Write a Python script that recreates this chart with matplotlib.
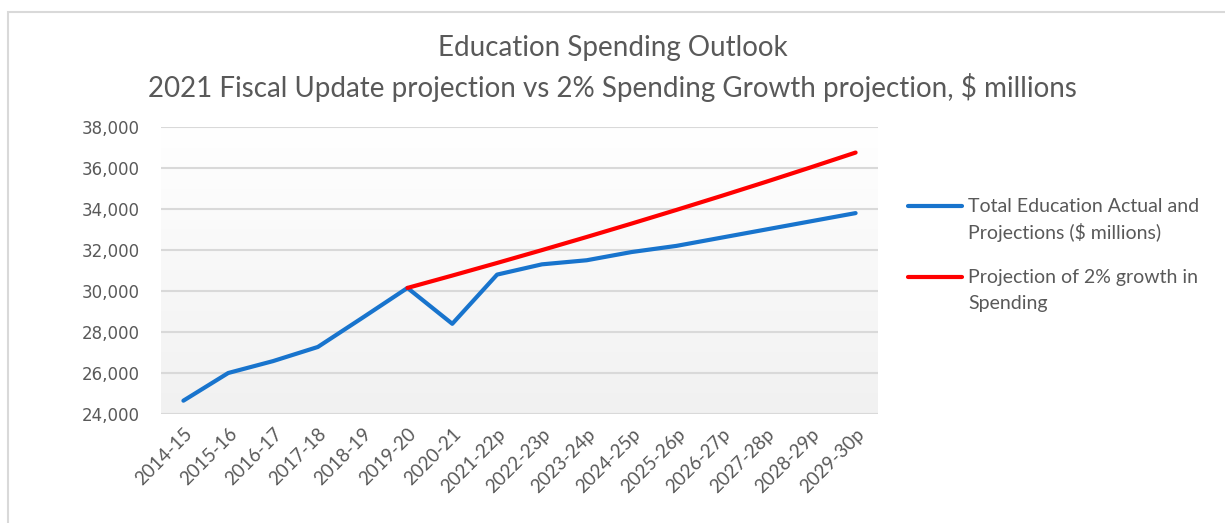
import numpy as np
import matplotlib.pyplot as plt
from matplotlib.patches import Rectangle
from matplotlib.lines import Line2D

years = ['2014-15', '2015-16', '2016-17', '2017-18', '2018-19', '2019-20', '2020-21',
         '2021-22p', '2022-23p', '2023-24p', '2024-25p', '2025-26p', '2026-27p',
         '2027-28p', '2028-29p', '2029-30p']
total_edu = [24650, 26000, 26580, 27270, 28700, 30150, 28400, 30800, 31300, 31500,
             31900, 32200, 32600, 33000, 33400, 33800]
growth_years = years[5:]
growth_2pct = [30150, 30753, 31368, 31995, 32635, 33288, 33954, 34633, 35325, 36032, 36753]
labels = ['Total Education Actual and\nProjections ($ millions)',
          'Projection of 2% growth in\nSpending']
colors = ['#1874cd', '#ff0000']

W, H = 1225, 523
fig = plt.figure(figsize=(W / 100, H / 100), dpi=100)
ax = fig.add_axes([161 / W, 1 - 414 / H, (878 - 161) / W, (414 - 127) / H])

# outer chart border
fig.patches.append(Rectangle((8 / W, -0.1), 1.2, 1 - 12 / H + 0.1, transform=fig.transFigure,
                             fill=False, edgecolor='#d9d9d9', linewidth=1.5))

x = np.arange(len(years))
gx = np.arange(5, len(years))

# gradient plot background
grad = np.linspace(1.0, 0.945, 256).reshape(-1, 1)
ax.imshow(np.dstack([grad, grad, grad]), extent=[0, 1, 0, 1], transform=ax.transAxes,
          aspect='auto', zorder=0)

ax.plot(x, total_edu, color=colors[0], lw=3, solid_capstyle='round', zorder=3)
ax.plot(gx, growth_2pct, color=colors[1], lw=3, solid_capstyle='round', zorder=4)

ax.set_xlim(-0.5, len(years) - 0.5)
ax.set_ylim(24000, 38000)
ax.set_yticks(range(24000, 38001, 2000))
ax.set_yticklabels([f'{v:,}' for v in range(24000, 38001, 2000)], fontsize=12,
                   color='#595959', family='DejaVu Sans')
ax.set_xticks(x)
ax.set_xticklabels(years, rotation=45, ha='right', rotation_mode='anchor',
                   fontsize=13.5, color='#595959', family='Lato')
ax.tick_params(axis='y', length=0, pad=15)
ax.tick_params(axis='x', length=0, pad=8)
ax.grid(axis='y', color='#d9d9d9', lw=1.5)
ax.set_axisbelow(True)
for s in ax.spines.values():
    s.set_visible(False)

fig.text(0.5, 1 - 48 / H, 'Education Spending Outlook', ha='center', va='center',
         fontsize=20, color='#595959', family='Lato')
fig.text(0.5, 1 - 87 / H, '2021 Fiscal Update projection vs 2% Spending Growth projection, $ millions',
         ha='center', va='center', fontsize=20, color='#595959', family='Lato')

# legend, drawn by hand so the line sits beside the first text line
for i, (lab, c) in enumerate(zip(labels, colors)):
    y0 = 206 + i * 71
    fig.add_artist(Line2D([908 / W, 962 / W], [1 - y0 / H, 1 - y0 / H], color=c, lw=3,
                          solid_capstyle='round', transform=fig.transFigure))
    for j, line in enumerate(lab.split('\n')):
        fig.text(968 / W, 1 - (y0 + j * 26) / H, line, ha='left', va='center',
                 fontsize=14, color='#595959', family='Lato')

fig.savefig('out.png', dpi=100)
